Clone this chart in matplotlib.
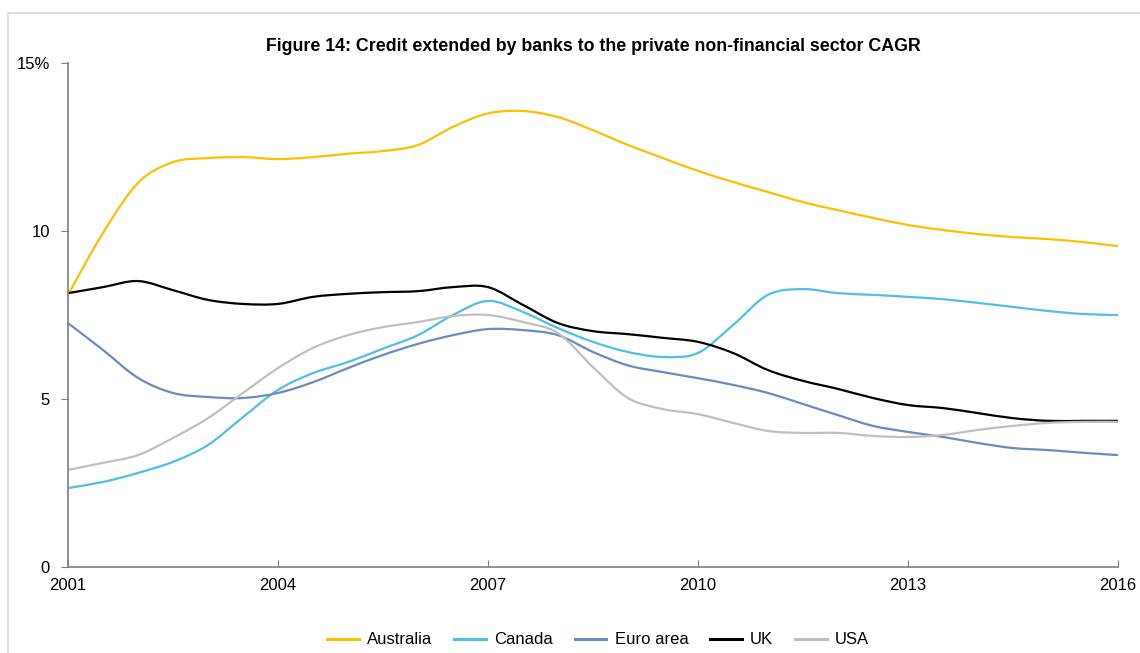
import numpy as np
import matplotlib.pyplot as plt
from matplotlib.lines import Line2D
from matplotlib.path import Path
from matplotlib.patches import PathPatch

plt.rcParams['font.family'] = ['Liberation Sans', 'DejaVu Sans']

years = np.arange(2001, 2016.01, 0.5)

australia = [8.10, 9.94, 11.43, 12.05, 12.17, 12.20, 12.14, 12.20, 12.30, 12.38,
             12.56, 13.10, 13.50, 13.57, 13.39, 13.00, 12.56, 12.17, 11.79, 11.46,
             11.16, 10.86, 10.62, 10.39, 10.18, 10.03, 9.91, 9.82, 9.76, 9.67, 9.55]
canada = [2.35, 2.53, 2.80, 3.13, 3.63, 4.46, 5.27, 5.77, 6.10, 6.50,
          6.90, 7.50, 7.92, 7.59, 7.11, 6.70, 6.40, 6.25, 6.37, 7.20,
          8.10, 8.27, 8.15, 8.10, 8.04, 7.97, 7.86, 7.74, 7.62, 7.53, 7.50]
euro_area = [7.26, 6.46, 5.63, 5.18, 5.06, 5.03, 5.18, 5.50, 5.92, 6.31,
             6.64, 6.90, 7.08, 7.05, 6.90, 6.40, 6.00, 5.80, 5.62, 5.42,
             5.18, 4.85, 4.52, 4.20, 4.02, 3.87, 3.69, 3.54, 3.48, 3.40, 3.33]
uk = [8.15, 8.33, 8.51, 8.24, 7.95, 7.83, 7.83, 8.04, 8.13, 8.18,
      8.21, 8.33, 8.33, 7.80, 7.26, 7.02, 6.93, 6.82, 6.70, 6.37,
      5.86, 5.54, 5.30, 5.03, 4.82, 4.73, 4.58, 4.43, 4.35, 4.35, 4.35]
usa = [2.89, 3.10, 3.33, 3.84, 4.43, 5.18, 5.92, 6.52, 6.90, 7.14,
       7.29, 7.47, 7.50, 7.29, 6.96, 5.95, 5.03, 4.70, 4.55, 4.29,
       4.05, 3.99, 3.99, 3.90, 3.87, 3.93, 4.08, 4.20, 4.29, 4.32, 4.32]

series = [("Australia", australia, "#FFC000"),
          ("Canada", canada, "#4FC0E8"),
          ("Euro area", euro_area, "#6A8CC0"),
          ("UK", uk, "#000000"),
          ("USA", usa, "#BFBFBF")]


def smooth_path(x, y):
    # Excel-style smoothed line: bezier segments through every point
    x = np.asarray(x, float)
    y = np.asarray(y, float)
    verts = [(x[0], y[0])]
    codes = [Path.MOVETO]
    n = len(x)
    for i in range(n - 1):
        p0 = i - 1 if i > 0 else i
        p3 = i + 2 if i + 2 < n else i + 1
        c1 = (x[i] + (x[i + 1] - x[p0]) / 6, y[i] + (y[i + 1] - y[p0]) / 6)
        c2 = (x[i + 1] - (x[p3] - x[i]) / 6, y[i + 1] - (y[p3] - y[i]) / 6)
        verts += [c1, c2, (x[i + 1], y[i + 1])]
        codes += [Path.CURVE4] * 3
    return Path(verts, codes)


fig = plt.figure(figsize=(11.4, 6.53), dpi=100)
ax = fig.add_axes([0.0596, 0.1317, 0.9211, 0.7718])

# light frame around the figure
fig.add_artist(Line2D([8/1140, 1], [1 - 12.5/653] * 2, color="#d9d9d9", lw=1.2))
fig.add_artist(Line2D([8/1140] * 2, [0, 1 - 12.5/653], color="#d9d9d9", lw=1.2))

handles = []
for name, vals, col in series:
    ax.add_patch(PathPatch(smooth_path(years, vals), facecolor="none",
                           edgecolor=col, lw=1.6))
    handles.append(Line2D([], [], color=col, lw=2.2, label=name))

ax.set_xlim(2001, 2016)
ax.set_ylim(0, 15)
ax.set_xticks([2001, 2004, 2007, 2010, 2013, 2016])
ax.set_yticks([0, 5, 10, 15])
ax.set_yticklabels(["0", "5", "10", "15%"])

for s in ["top", "right"]:
    ax.spines[s].set_visible(False)
for s in ["left", "bottom"]:
    ax.spines[s].set_color("#7f7f7f")
    ax.spines[s].set_linewidth(1.2)

ax.tick_params(axis="y", direction="out", length=5, color="#7f7f7f",
               labelsize=12, pad=8)
ax.tick_params(axis="x", direction="in", length=5, color="#7f7f7f",
               labelsize=12, pad=8)

ax.set_title("Figure 14: Credit extended by banks to the private non-financial sector CAGR",
             fontsize=12.8, fontweight="bold", pad=9)

ax.legend(handles=handles, loc="upper center", bbox_to_anchor=(0.505, -0.1), ncol=5,
          frameon=False, fontsize=12, handlelength=1.9, handletextpad=0.5,
          columnspacing=1.3)

fig.savefig("out.png", dpi=100)
